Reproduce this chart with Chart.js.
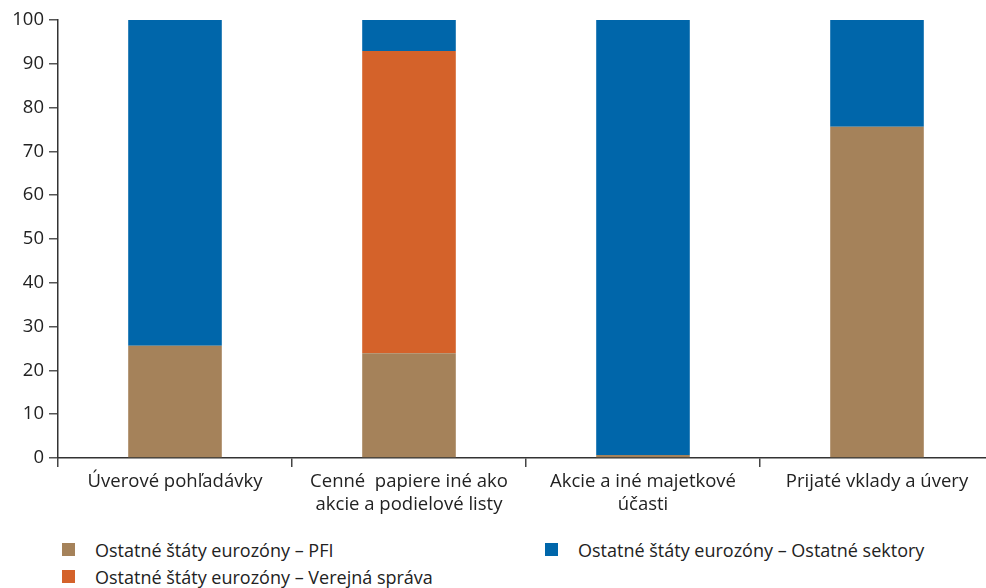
<!DOCTYPE html>
<html>
<head>
<meta charset="utf-8">
<script src="https://cdn.jsdelivr.net/npm/chart.js@4"></script>
<style>
    html, body { margin: 0; padding: 0; background: #fff; overflow: hidden; }
    #wrap { position: relative; width: 986px; height: 588px; }
    #legend { position: absolute; left: 62px; top: 538px; width: 900px;
        display: grid; grid-template-columns: 483px 400px; row-gap: 4px;
        font-family: 'Open Sans', sans-serif; font-size: 18px; color: #222; }
    .item { display: flex; align-items: center; height: 23px; }
    .box { width: 13px; height: 13px; margin-right: 20px; }
</style>
</head>
<body>
<div id="wrap">
    <canvas id="chart" width="994" height="520"></canvas>
    <div id="legend"></div>
</div>
<script>
const categories = [
    'Úverové pohľadávky',
    ['Cenné  papiere iné ako', 'akcie a podielové listy'],
    ['Akcie a iné majetkové', 'účasti'],
    'Prijaté vklady a úvery'
];
const pfi = [25.6, 23.9, 0.7, 75.6];
const verejnaSprava = [0, 69.0, 0, 0];
const ostatneSektory = [74.4, 7.1, 99.3, 24.4];

const legendOrder = [0, 2, 1];

const ctx = document.getElementById('chart');
const fontFamily = "'Open Sans', sans-serif";

const chart = new Chart(ctx, {
    type: 'bar',
    data: {
        labels: categories,
        datasets: [
            { label: 'Ostatné štáty eurozóny – PFI', data: pfi, backgroundColor: '#A5825A' },
            { label: 'Ostatné štáty eurozóny – Verejná správa', data: verejnaSprava, backgroundColor: '#D4622A' },
            { label: 'Ostatné štáty eurozóny – Ostatné sektory', data: ostatneSektory, backgroundColor: '#0066AA' }
        ]
    },
    options: {
        responsive: false,
        animation: false,
        layout: { padding: { top: 20, left: 0, right: 0, bottom: 0 } },
        datasets: {
            bar: { barPercentage: 0.4, categoryPercentage: 1 }
        },
        scales: {
            x: {
                stacked: true,
                offset: true,
                afterFit: (s) => { s.height = 62; },
                ticks: {
                    color: '#222',
                    font: { family: fontFamily, size: 18.5, lineHeight: 1.2 },
                    padding: 4,
                    maxRotation: 0
                },
                grid: {
                    offset: true,
                    drawOnChartArea: false,
                    tickLength: 9,
                    color: '#444',
                    lineWidth: 1.5
                },
                border: { color: '#333', width: 1.5 }
            },
            y: {
                stacked: true,
                min: 0,
                max: 100,
                afterFit: (s) => { s.width = 58; },
                ticks: {
                    stepSize: 10,
                    color: '#222',
                    font: { family: fontFamily, size: 18.5 },
                    padding: 5
                },
                grid: {
                    drawOnChartArea: false,
                    tickLength: 9,
                    color: '#555',
                    lineWidth: 1.5
                },
                border: { color: '#333', width: 1.5 }
            }
        },
        plugins: {
            legend: { display: false },
            tooltip: { enabled: false }
        }
    }
});

// legenda v dvoch stĺpcoch
const legendEl = document.getElementById('legend');
legendOrder.forEach((i) => {
    const ds = chart.data.datasets[i];
    const item = document.createElement('div');
    item.className = 'item';
    const box = document.createElement('span');
    box.className = 'box';
    box.style.background = ds.backgroundColor;
    const txt = document.createElement('span');
    txt.textContent = ds.label;
    item.appendChild(box);
    item.appendChild(txt);
    legendEl.appendChild(item);
});
</script>
</body>
</html>
